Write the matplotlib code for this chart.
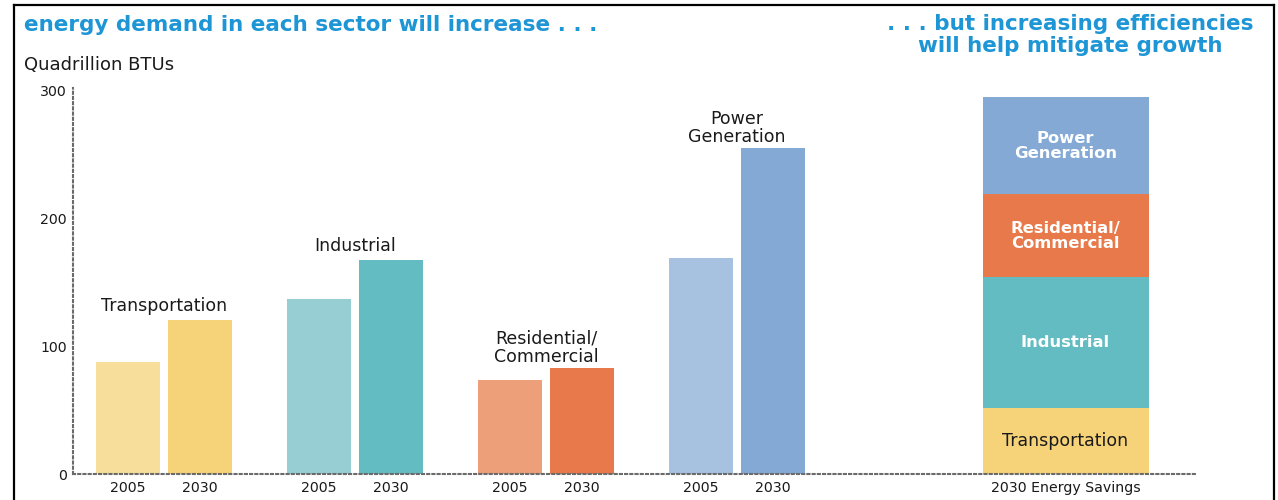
import matplotlib
matplotlib.use("Agg")
import matplotlib.pyplot as plt
from matplotlib.lines import Line2D
import numpy as np

plt.rcParams['font.family'] = ['DejaVu Sans']

# Energy demand by sector (quadrillion BTUs)
sectors = ["Transportation", "Industrial", "Residential/\nCommercial", "Power\nGeneration"]
demand_2005 = [88, 137, 74, 169]
demand_2030 = [121, 168, 83, 255]
years = ["2005", "2030"]

# 2030 energy savings, stacked bottom to top
savings_labels = ["Transportation", "Industrial", "Residential/\nCommercial", "Power\nGeneration"]
savings_values = [52, 102, 65, 76]
savings_tick = "2030 Energy Savings"

colors_2005 = ["#F7DF9B", "#96CED3", "#EC9F78", "#A7C1E0"]
colors_2030 = ["#F6D378", "#63BCC2", "#E8794A", "#85A9D5"]
savings_text_colors = ["#1a1a1a", "white", "white", "white"]
title_blue = "#1E96D6"
ink = "#1a1a1a"

W, H = 1278, 500
fig = plt.figure(figsize=(W / 100, H / 100), dpi=100)

ax_left, ax_right = 73, 1200
ax_bottom, ax_top = 474, 91
ax = fig.add_axes([ax_left / W, 1 - ax_bottom / H,
                   (ax_right - ax_left) / W, (ax_bottom - ax_top) / H])

group_x = np.arange(len(sectors))
offset = 0.188
bar_w = 0.335
stack_x = 4.72
stack_w = 0.869

ax.bar(group_x - offset, demand_2005, width=bar_w, color=colors_2005, zorder=2)
ax.bar(group_x + offset, demand_2030, width=bar_w, color=colors_2030, zorder=2)

# Sector names sit just above the taller (2030) bar
for gx, val, name in zip(group_x, demand_2030, sectors):
    lift = 1.5 if "\n" in name else 3.5
    ax.annotate(name, xy=(gx, val), xytext=(0, lift), textcoords="offset points",
                ha="center", va="bottom", fontsize=12.5, color=ink,
                linespacing=1.0)

bottom = 0
for val, lab, col, tcol in zip(savings_values, savings_labels, colors_2030, savings_text_colors):
    ax.bar(stack_x, val, width=stack_w, bottom=bottom, color=col, zorder=2)
    is_white = tcol == "white"
    ax.text(stack_x, bottom + val / 2, lab, ha="center", va="center",
            fontsize=11.8 if is_white else 12.5, color=tcol,
            fontweight="semibold" if is_white else "normal", linespacing=0.95)
    bottom += val

ax.set_xlim((ax_left - 164) / 191, (ax_right - 164) / 191)
ax.set_ylim(0, 300)

xticks = list(group_x - offset) + list(group_x + offset) + [stack_x]
xlabels = [years[0]] * len(sectors) + [years[1]] * len(sectors) + [savings_tick]
ax.set_xticks(xticks)
ax.set_xticklabels(xlabels, fontsize=10.2)
ax.set_yticks([0, 100, 200, 300])
ax.set_yticklabels(["0", "100", "200", "300"], fontsize=10.2)
ax.tick_params(axis="both", length=0, colors=ink)
ax.tick_params(axis="x", pad=5)
ax.tick_params(axis="y", pad=4.5)

for side in ["top", "right"]:
    ax.spines[side].set_visible(False)
for side in ["left", "bottom"]:
    ax.spines[side].set_linestyle((0, (1, 1.5)))
    ax.spines[side].set_color("#6a6a6a")
    ax.spines[side].set_linewidth(1.5)
ax.spines["bottom"].set_bounds(ax.get_xlim()[0], (1197 - 164) / 191)
ax.spines["left"].set_bounds(0, 302)

# Headline texts
fig.text(24 / W, 1 - 25 / H, "energy demand in each sector will increase . . .",
         ha="left", va="center", fontsize=15.5, fontweight="bold", color=title_blue)
fig.text(1070 / W, 1 - 35 / H, ". . . but increasing efficiencies\nwill help mitigate growth",
         ha="center", va="center", fontsize=15.5, fontweight="bold", color=title_blue,
         linespacing=1.1)
fig.text(24 / W, 1 - 65 / H, "Quadrillion BTUs", ha="left", va="center",
         fontsize=13, color=ink)

# Outer frame
frame_kw = dict(color="black", linewidth=1.6, transform=fig.transFigure)
fig.add_artist(Line2D([13.5 / W, 13.5 / W], [0, 1 - 5 / H], **frame_kw))
fig.add_artist(Line2D([13.5 / W, 1274 / W], [1 - 5 / H, 1 - 5 / H], **frame_kw))
fig.add_artist(Line2D([1274 / W, 1274 / W], [0, 1 - 5 / H], **frame_kw))

fig.savefig("out.png", dpi=100)
